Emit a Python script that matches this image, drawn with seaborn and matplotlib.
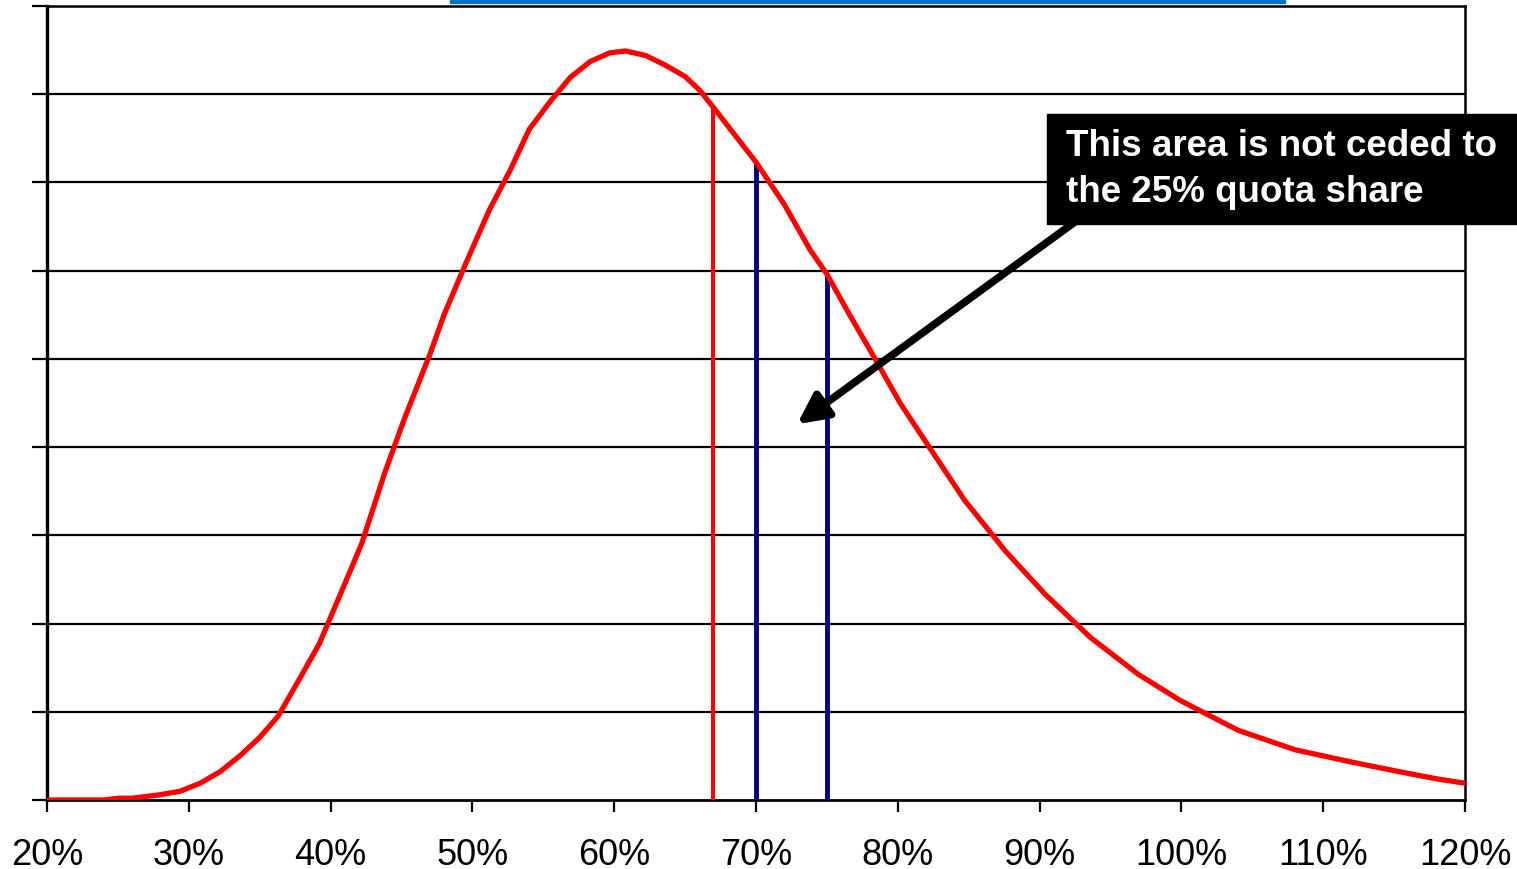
import numpy as np
import pandas as pd
import matplotlib
matplotlib.use("Agg")
import matplotlib.pyplot as plt
from matplotlib.patches import Rectangle
import seaborn as sns

# loss ratio (%) and relative frequency (gridline units)
loss_ratio = [20, 24, 25, 26, 28, 29.4, 30.8, 32.2, 33.6, 35, 36.3, 37.8, 39.2, 41,
              42.2, 43.8, 45.2, 47, 48, 49.5, 51.2, 52.7, 54, 55.5, 56.9, 58.3,
              59.7, 60.8, 62.2, 63.6, 65, 66, 67, 68.5, 70, 72, 73.8, 75, 76.6,
              78.4, 80.2, 82.3, 84.7, 87.6, 90.4, 93.6, 97, 99.9, 104, 108, 112,
              115.4, 118, 120]
frequency = [0, 0, 0.02, 0.02, 0.06, 0.10, 0.19, 0.32, 0.50, 0.71, 0.95, 1.37, 1.77,
             2.45, 2.91, 3.70, 4.32, 5.05, 5.50, 6.07, 6.69, 7.15, 7.60, 7.92, 8.19,
             8.37, 8.47, 8.49, 8.44, 8.33, 8.20, 8.05, 7.85, 7.54, 7.23, 6.75, 6.24,
             5.96, 5.50, 5.00, 4.49, 3.98, 3.40, 2.82, 2.33, 1.84, 1.42, 1.13, 0.79,
             0.57, 0.43, 0.32, 0.24, 0.19]

# cut-off points
cut_red = [67]
cut_blue = [70, 75]

x_ticks = [20, 30, 40, 50, 60, 70, 80, 90, 100, 110, 120]
x_labels = ["20%", "30%", "40%", "50%", "60%", "70%", "80%", "90%", "100%", "110%", "120%"]

note_lines = ["This area is not ceded to", "the 25% quota share"]

sns.set_style("white")
plt.rcParams["font.family"] = ["Liberation Sans", "DejaVu Sans"]

W, H = 1517, 870
fig = plt.figure(figsize=(W / 100, H / 100), dpi=100)
ax = fig.add_axes([47 / W, 1 - 801 / H, (1465 - 47) / W, (801 - 7) / H])

df = pd.DataFrame({"loss_ratio": loss_ratio, "frequency": frequency})

# gridlines
for g in range(1, 10):
    ax.axhline(g, color="black", lw=1.6, zorder=1)

sns.lineplot(data=df, x="loss_ratio", y="frequency", ax=ax, color="#FF0000",
             lw=3.8, zorder=4)

for c in cut_red:
    ax.vlines(c, 0, np.interp(c, loss_ratio, frequency), color="#FF0000", lw=2.9, zorder=3)
for c in cut_blue:
    ax.vlines(c, 0, np.interp(c, loss_ratio, frequency), color="#000080", lw=3.5, zorder=3)

ax.set_xlim(20, 120)
ax.set_ylim(0, 9)
ax.set_xticks(x_ticks)
ax.set_xticklabels(x_labels, fontsize=26)
ax.set_yticks(range(0, 10))
ax.set_yticklabels([])
ax.set_xlabel("")
ax.set_ylabel("")
ax.tick_params(axis="x", direction="out", length=8.5, width=1.6, pad=18, colors="black")
ax.tick_params(axis="y", direction="out", length=11, width=1.6, left=True, colors="black")
ax.xaxis.set_ticks_position("bottom")
for s in ax.spines.values():
    s.set_color("black")
    s.set_linewidth(1.8)
ax.spines["left"].set_linewidth(2.4)
ax.spines["bottom"].set_linewidth(2.0)

# arrow
ax.annotate("", xy=(72.9, 4.26), xytext=(92.9, 6.6),
            arrowprops=dict(arrowstyle="-|>,head_length=1.8,head_width=0.9",
                            color="black", lw=5.5, shrinkA=0, shrinkB=0), zorder=6)

# note box
fig.patches.append(Rectangle((1047 / W, 1 - 225 / H), (W - 1047) / W, 110 / H,
                             transform=fig.transFigure, color="black", zorder=10))
fig.text(1066 / W, 1 - 156 / H, note_lines[0], color="white", fontsize=26.5,
         fontweight="bold", va="baseline", ha="left", zorder=11)
fig.text(1066 / W, 1 - 202 / H, note_lines[1], color="white", fontsize=26.5,
         fontweight="bold", va="baseline", ha="left", zorder=11)

# cut-off title bar at top
fig.patches.append(Rectangle((450 / W, 1 - 4 / H), (1285 - 450) / W, 4 / H,
                             transform=fig.transFigure, color="#0070C0", zorder=10))

fig.savefig("out.png", dpi=100)
